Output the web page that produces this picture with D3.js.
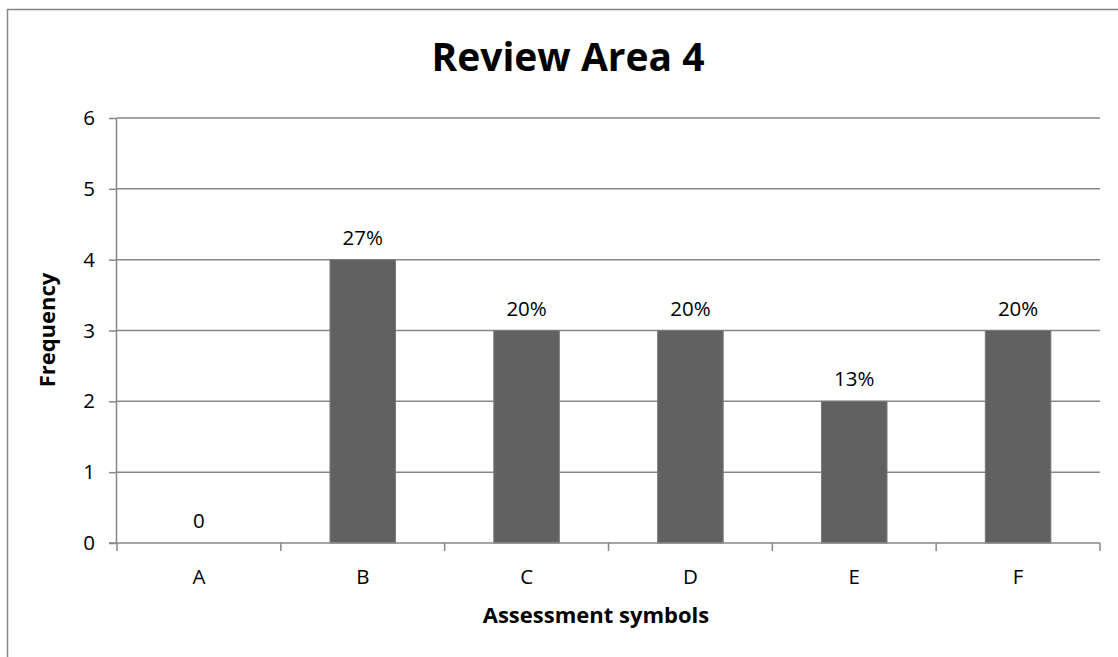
<!DOCTYPE html>
<html><head><meta charset="utf-8">
<script src="https://cdn.jsdelivr.net/npm/d3@7"></script>
<style>
html,body{margin:0;padding:0;background:#fff;}
text{font-family:"Open Sans",sans-serif;fill:#000;}
</style></head>
<body>
<svg id="c" width="1118" height="657"></svg>
<script>
const categories = ["A","B","C","D","E","F"];
const values = [0,4,3,3,2,3];
const labels = ["0","27%","20%","20%","13%","20%"];
const yTicks = [0,1,2,3,4,5,6];
const title = "Review Area 4";
const xTitle = "Assessment symbols";
const yTitle = "Frequency";

const svg = d3.select("#c");
const grid = "#878787";
const fs = 20.5;
// chart border
svg.append("rect").attr("x",7.5).attr("y",9.5).attr("width",1300).attr("height",1000)
  .attr("fill","none").attr("stroke",grid).attr("stroke-width",1.5);

const L=117, R=1100, T=118, B=543;
const x = d3.scaleBand().domain(categories).range([L,R]).paddingInner(0.6).paddingOuter(0.3);
const xb = d3.scaleBand().domain(categories).range([L,R]);
const y = d3.scaleLinear().domain([0,6]).range([B,T]);

// gridlines
svg.append("g").selectAll("line").data(yTicks.filter(d=>d>0)).join("line")
  .attr("x1",L).attr("x2",R).attr("y1",d=>y(d)).attr("y2",d=>y(d))
  .attr("stroke",grid).attr("stroke-width",1.5);

// bars
svg.append("g").selectAll("rect").data(values).join("rect")
  .attr("x",(d,i)=>x(categories[i])).attr("width",x.bandwidth())
  .attr("y",d=>y(d)).attr("height",d=>B-y(d))
  .attr("fill","#616161").attr("stroke","#7a7a7a").attr("stroke-width",1);

// y axis
const ya = svg.append("g").attr("transform",`translate(${L},0)`)
  .call(d3.axisLeft(y).tickValues(yTicks).tickSize(8).tickPadding(14).tickFormat(d3.format("d")));
ya.select(".domain").attr("stroke",grid).attr("stroke-width",1.5).attr("d",`M-0.5,${T}V${B}`);
ya.selectAll(".tick line").attr("stroke",grid).attr("stroke-width",1.5);
ya.selectAll(".tick text").attr("font-size",fs).attr("font-family","Open Sans").attr("fill","#000");

// x axis
const xa = svg.append("g").attr("transform",`translate(0,${B})`)
  .call(d3.axisBottom(xb).tickSize(0).tickPadding(26));
xa.select(".domain").attr("stroke",grid).attr("stroke-width",1.5).attr("d",`M${L-8},0H${R}`);
xa.selectAll(".tick text").attr("font-size",fs).attr("font-family","Open Sans").attr("fill","#000");
// category boundary ticks
const bounds = categories.map(c=>xb(c)).concat([R]);
svg.append("g").selectAll("line").data(bounds).join("line")
  .attr("x1",d=>d).attr("x2",d=>d).attr("y1",B).attr("y2",B+8)
  .attr("stroke",grid).attr("stroke-width",1.5);

// data labels
svg.append("g").selectAll("text").data(values).join("text")
  .attr("x",(d,i)=>xb(categories[i])+xb.bandwidth()/2)
  .attr("y",d=>y(d)-15)
  .attr("text-anchor","middle").attr("font-size",fs)
  .text((d,i)=>labels[i]);

// titles
svg.append("text").attr("x",568).attr("y",71).attr("text-anchor","middle")
  .attr("font-size",39).attr("font-weight","bold").text(title);
svg.append("text").attr("x",596).attr("y",623).attr("text-anchor","middle")
  .attr("font-size",22).attr("font-weight","bold").text(xTitle);
svg.append("text").attr("transform","translate(55,330) rotate(-90)").attr("text-anchor","middle")
  .attr("font-size",22).attr("font-weight","bold").text(yTitle);
</script>
</body></html>
